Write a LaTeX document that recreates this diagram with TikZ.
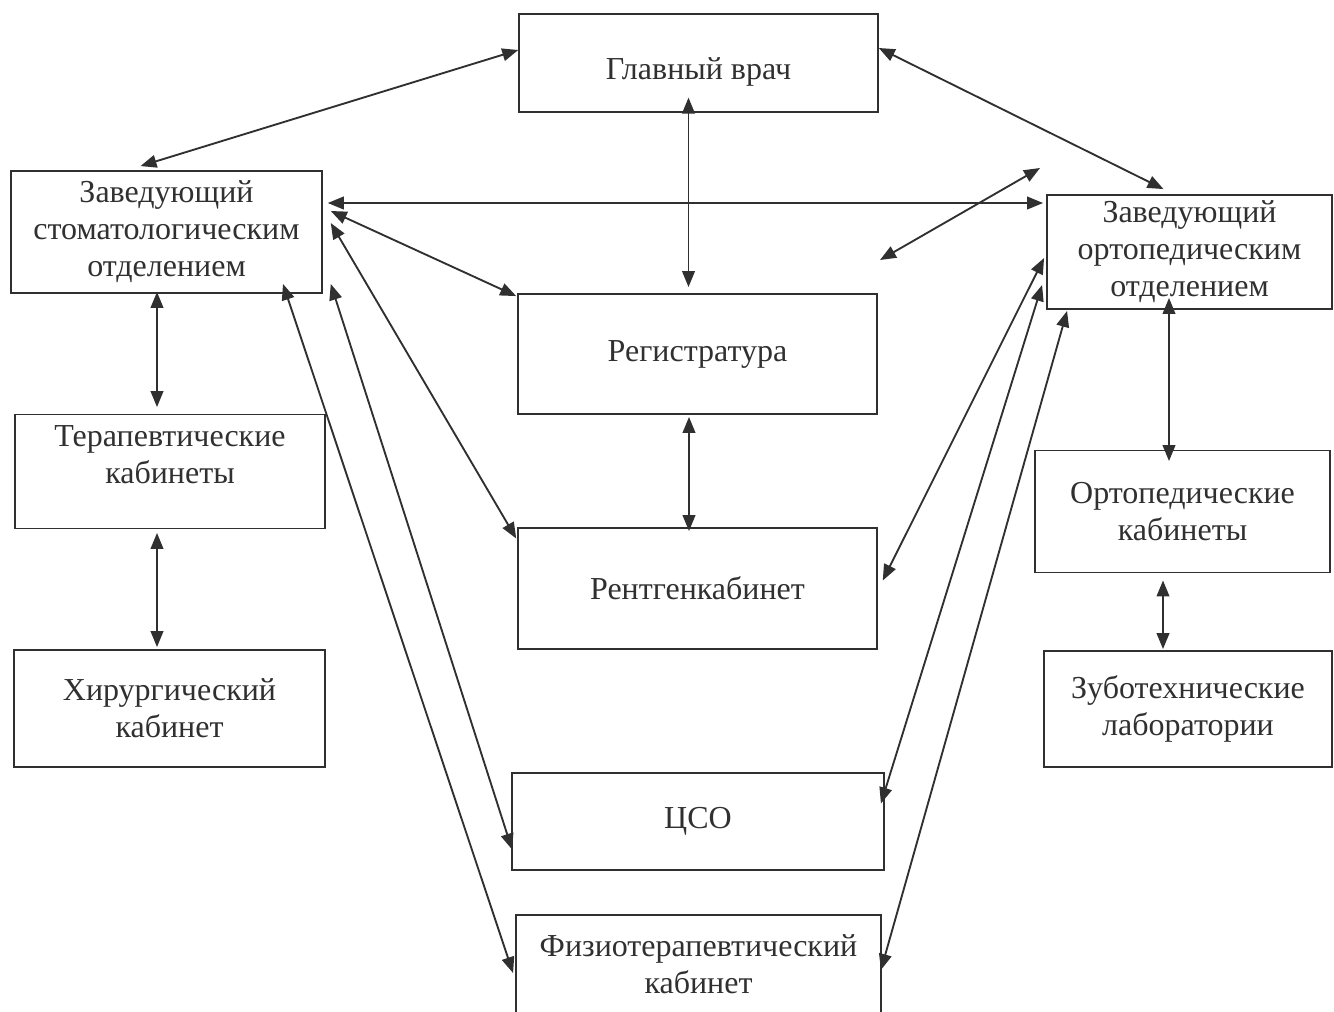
\documentclass[tikz,border=0pt]{standalone}
\usepackage{fontspec}
\setmainfont{Liberation Serif}
\usepackage{tikz}
\usetikzlibrary{arrows.meta, calc}
\definecolor{ink}{HTML}{303030}

\begin{document}
\begin{tikzpicture}[x=0.75pt, y=-0.75pt,
box/.style={draw=ink, line width=1.4pt, rectangle, align=center, inner sep=2pt, text=ink, font=\fontsize{24}{27.75}\selectfont},
link/.style={{Triangle[length=12pt,width=9.5pt]}-{Triangle[length=12pt,width=9.5pt]}, draw=ink, line width=1.4pt}]
\useasboundingbox (0,0) rectangle (1334,1011);
\path
(698.5,63) node[box, minimum width=269pt, minimum height=73pt, text height=30pt] (glav) {Главный врач};
\path
(166.5,232) node[box, minimum width=233pt, minimum height=91.5pt] (zavst) {Заведующий\\стоматологическим\\отделением};
\path
(1189.5,252) node[box, minimum width=213.75pt, minimum height=85.5pt] (zavort) {Заведующий\\ортопедическим\\отделением};
\path
(697.5,354) node[box, minimum width=269pt, minimum height=90pt] (reg) {Регистратура};
\path
(170,471.5) node[box, minimum width=232.5pt, minimum height=85.5pt, text depth=25pt] (ter) {Терапевтические\\кабинеты};
\path
(697.5,588.5) node[box, minimum width=269pt, minimum height=90.75pt] (rent) {Рентгенкабинет};
\path
(1182.5,511.5) node[box, minimum width=221.25pt, minimum height=91.5pt] (ortkab) {Ортопедические\\кабинеты};
\path
(169.5,708.5) node[box, minimum width=233.25pt, minimum height=87.75pt] (hir) {Хирургический\\кабинет};
\path
(1188,709) node[box, minimum width=216pt, minimum height=87pt] (zub) {Зуботехнические\\лаборатории};
\path
(698,821.5) node[box, minimum width=279pt, minimum height=72.75pt] (cso) {ЦСО};
\path
(698.5,964) node[box, minimum width=273.75pt, minimum height=73.5pt] (fiz) {Физиотерапевтический\\кабинет};
\coordinate (fa) at (880,260);
\coordinate (fb) at (1040,168);
\draw[link] ($(glav.west)+(0,-13)$)--($(zavst.north)+(-26,-4)$);
\draw[link] ($(glav.east)+(0,-15)$)--($(zavort.north)+(-26,-5)$);
\draw[link] ($(glav.south)+(-10,-15)$)--($(reg.north)+(-9,-6)$);
\draw[link] ($(zavst.east)+(5,-29)$)--($(zavort.west)+(-3,-49)$);
\draw[link] (fa)--(fb);
\draw[link] ($(zavst.east)+(8,-21)$)--($(reg.north west)+(-1,3)$);
\draw[link] ($(zavst.east)+(8,-9)$)--($(rent.west)+(-1,-50)$);
\draw[link] ($(zavst.south)+(-9.5,-2)$)--($(ter.north)+(-13,-6.5)$);
\draw[link] ($(ter.south)+(-13,3.5)$)--($(hir.north)+(-12.5,-2)$);
\draw[link] ($(zavst.south east)+(8,-10)$)--($(cso.west)+(1,28)$);
\draw[link] ($(zavst.south)+(116.5,-10)$)--($(fiz.west)+(-2,9)$);
\draw[link] ($(reg.south)+(-8.5,2)$)--($(rent.north)+(-8.5,4)$);
\draw[link] ($(zavort.west)+(-2,6)$)--($(rent.east)+(5,-8)$);
\draw[link] ($(zavort.west)+(-4,33)$)--($(cso.east)+(-4,-18)$);
\draw[link] ($(zavort.south west)+(21,1)$)--($(fiz.east)+(-1,6)$);
\draw[link] ($(zavort.south)+(-20.5,-12)$)--($(ortkab.north)+(-13.5,11.5)$);
\draw[link] ($(ortkab.south)+(-19.5,7)$)--($(zub.north)+(-25,-1)$);
\end{tikzpicture}
\end{document}
